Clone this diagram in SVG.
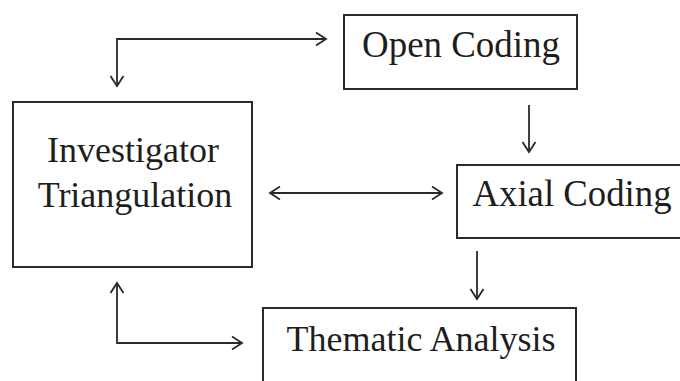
<svg xmlns="http://www.w3.org/2000/svg" width="680" height="381" viewBox="0 0 680 381">
<defs>
<style>
.box{fill:#fff;stroke:#2a2a2a;stroke-width:2}
.lbl{font-family:"Liberation Serif","Times New Roman",serif;fill:#1e1e1e;text-anchor:middle}
.con{fill:none;stroke:#2a2a2a;stroke-width:1.8;marker-end:url(#ah)}
.both{marker-start:url(#ahs)}
</style>
<marker id="ah" viewBox="-12 -8 14 16" refX="0" refY="0" markerWidth="14" markerHeight="16" markerUnits="userSpaceOnUse" orient="auto">
<path d="M-10,-6.5 L0,0 L-10,6.5" fill="none" stroke="#2a2a2a" stroke-width="1.8"/>
</marker>
<marker id="ahs" viewBox="-12 -8 14 16" refX="0" refY="0" markerWidth="14" markerHeight="16" markerUnits="userSpaceOnUse" orient="auto-start-reverse">
<path d="M-10,-6.5 L0,0 L-10,6.5" fill="none" stroke="#2a2a2a" stroke-width="1.8"/>
</marker>
</defs>
<rect width="680" height="381" fill="#fff"/>
<g id="connectors">
<path class="con both" d="M117,86 L117,39 L326,39"/>
<path class="con" d="M529,105 L529,152"/>
<path class="con both" d="M270,193 L442,193"/>
<path class="con" d="M477,251 L477,299"/>
<path class="con both" d="M117,283 L117,343 L242,343"/>
</g>
<g id="open-coding">
<rect class="box" x="344" y="15" width="233" height="74"/>
<text class="lbl" x="461" y="57" font-size="38" textLength="198" lengthAdjust="spacingAndGlyphs">Open Coding</text>
</g>
<g id="investigator-triangulation">
<rect class="box" x="13" y="102" width="239" height="165"/>
<text class="lbl" x="133" y="162" font-size="36">Investigator</text>
<text class="lbl" x="135" y="207" font-size="36">Triangulation</text>
</g>
<g id="axial-coding">
<rect class="box" x="457" y="165" width="240" height="73"/>
<text class="lbl" x="572" y="206" font-size="38" textLength="199" lengthAdjust="spacingAndGlyphs">Axial Coding</text>
</g>
<g id="thematic-analysis">
<rect class="box" x="263" y="308" width="313" height="90"/>
<text class="lbl" x="421" y="351" font-size="36">Thematic Analysis</text>
</g>
</svg>
